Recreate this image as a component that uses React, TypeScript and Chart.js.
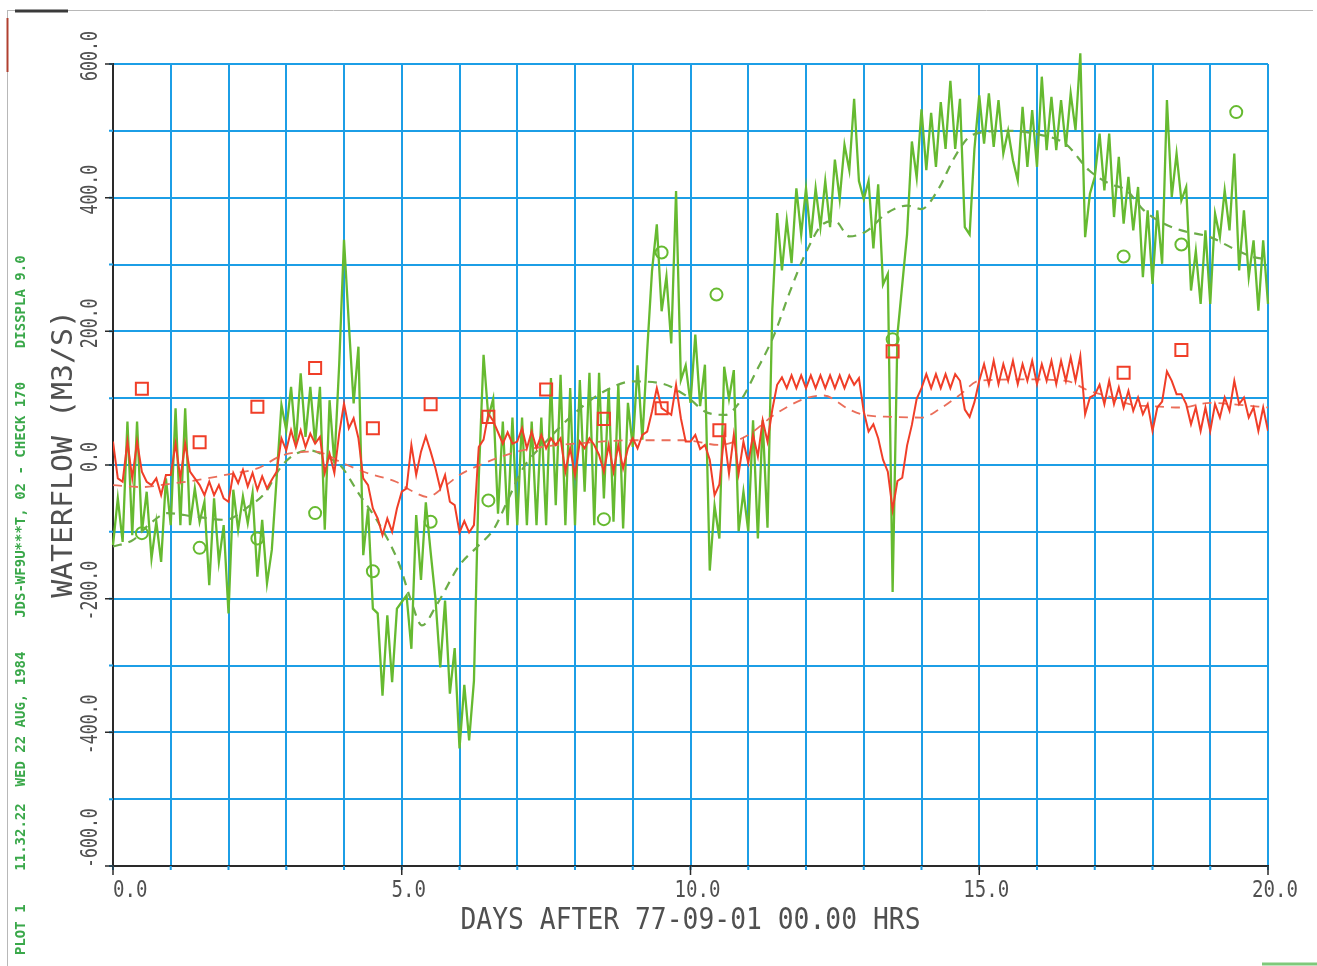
import React, { useEffect, useRef } from 'react';
import { Chart, registerables } from 'chart.js';

Chart.register(...registerables);

// ---- data ----
const STEPS_PER_DAY = 12; // one value every 2 hours

// measured flow, green solid line
const GREEN_FLOW = [
  -120, -50, -115, 65, -105, 65, -100, -40, -140, -85, -145, -20,
  -90, 85, -90, 85, -90, -35, -85, -55, -180, -50, -145, -90,
  -222, -37, -97, -47, -87, -42, -167, -82, -177, -127, -20, 90,
  52, 117, 32, 137, 42, 117, 32, 117, -97, 97, 2, 150,
  337, 212, 92, 177, -135, -65, -215, -222, -345, -225, -325, -215,
  -205, -195, -275, -75, -172, -56, -130, -200, -303, -203, -342, -274,
  -424, -329, -412, -323, -20, 165, 71, 99, -73, 65, -90, 71,
  -90, 71, -90, 65, -90, 71, -90, 130, -60, 135, -90, 115,
  -90, 127, -40, 138, -90, 138, -50, 115, -85, 121, -95, 93,
  27, 149, 38, 171, 290, 360, 230, 282, 182, 410, 127, 149,
  93, 195, 88, 150, -158, -61, -110, 147, 99, 142, -99, -40,
  -99, 67, -110, 67, -94, 233, 377, 291, 366, 302, 414, 345,
  414, 340, 414, 356, 425, 356, 457, 398, 479, 441, 548, 425,
  398, 425, 324, 420, 270, 286, -190, 195, 270, 345, 484, 430,
  532, 441, 527, 446, 543, 473, 575, 473, 548, 356, 345, 473,
  553, 481, 556, 476, 546, 466, 500, 456, 426, 536, 446, 531,
  446, 581, 471, 551, 471, 546, 476, 556, 501, 616, 341, 406,
  431, 496, 411, 496, 371, 461, 361, 431, 351, 416, 281, 381,
  271, 381, 301, 546, 401, 466, 396, 416, 261, 320, 241, 351,
  241, 376, 341, 411, 351, 466, 291, 381, 281, 336, 231, 336,
  241,
];

// measured flow, red solid line
const RED_FLOW = [
  35, -20, -25, 35, -20, 35, -10, -25, -30, -20, -45, -15,
  -15, 32, -20, 32, -10, -20, -30, -45, -25, -45, -30, -50,
  -55, -12, -27, -7, -32, -12, -37, -17, -35, -22, -10, 40,
  22, 52, 27, 52, 27, 47, 32, 42, -12, 17, -12, 47,
  92, 55, 70, 40, -20, -30, -65, -80, -105, -80, -100, -65,
  -40, -35, 30, -15, 20, 43, 20, -5, -35, -15, -55, -60,
  -101, -84, -101, -90, 27, 38, 77, 66, 49, 32, 49, 32,
  35, 55, 25, 50, 25, 45, 25, 40, 30, 40, -10, 25,
  -15, 35, 25, 40, 30, 15, -10, 30, -10, 30, -5, 25,
  40, 25, 45, 50, 80, 115, 85, 80, 75, 120, 70, 35,
  35, 45, 24, 30, 8, -45, -29, 45, -13, 45, -13, 35,
  3, 45, 13, 67, 35, 83, 120, 131, 115, 134, 115, 134,
  115, 134, 115, 134, 115, 134, 115, 134, 115, 134, 120, 130,
  80, 50, 61, 40, 8, -10, -67, -24, -19, 29, 60, 99,
  115, 136, 115, 136, 115, 136, 115, 136, 126, 83, 72, 94,
  126, 151, 121, 156, 121, 151, 126, 156, 121, 151, 126, 156,
  121, 151, 126, 156, 121, 156, 126, 161, 126, 163, 76, 101,
  105, 120, 91, 126, 91, 116, 86, 111, 81, 101, 76, 91,
  51, 86, 95, 140, 126, 106, 106, 91, 61, 86, 51, 86,
  51, 91, 71, 101, 81, 126, 91, 101, 71, 86, 51, 86,
  51,
];

// smoothed (dashed) green line
const GREEN_MEAN_DAYS = [
  0, 0.35, 0.65, 0.95, 1.4, 1.95, 2.35, 2.65, 2.85, 3.05, 3.4, 3.7, 3.95,
  4.25, 4.6, 4.95, 5.15, 5.35, 5.6, 6.0, 6.3, 6.6, 6.85, 7.1, 7.5, 8.0,
  8.5, 9.0, 9.5, 9.9, 10.3, 10.6, 10.85, 11.15, 11.45, 11.72, 12.0, 12.3,
  12.5, 12.75, 13.05, 13.4, 13.75, 14.0, 14.3, 14.55, 14.8, 15.0, 15.5,
  16.0, 16.5, 16.9, 17.25, 17.55, 17.85, 18.2, 18.5, 19.0, 19.35, 19.75, 20.0,
];
const GREEN_MEAN = [
  -122, -112, -87, -72, -77, -82, -62, -40, -10, 10, 22, 12, -2,
  -42, -87, -147, -200, -240, -210, -150, -123, -95, -50, -5, 35, 78,
  110, 125, 122, 105, 78, 75, 94, 142, 195, 259, 318, 361,
  365, 342, 350, 377, 388, 383, 414, 457, 489, 497, 500,
  495, 480, 441, 421, 411, 381, 361, 351, 341, 326, 311, 308,
];

// smoothed (dashed) red line
const RED_MEAN_DAYS = [
  0, 0.5, 1.0, 1.5, 2.0, 2.5, 2.95, 3.5, 4.0, 4.4, 4.9, 5.2, 5.45, 5.7,
  6.0, 6.3, 7.0, 7.5, 8.0, 9.0, 9.9, 10.5, 11.0, 11.45, 12.0, 12.3, 12.75,
  13.0, 13.5, 14.0, 14.3, 14.65, 15.0, 15.8, 16.5, 16.9, 17.3, 17.6, 18.0,
  18.5, 19.0, 19.5, 20.0,
];
const RED_MEAN = [
  -30, -33, -28, -22, -14, -5, 15, 20, 2, -12, -25, -40, -48, -35,
  -15, -2, 20, 28, 32, 37, 37, 30, 45, 75, 100, 104, 83,
  75, 72, 71, 83, 104, 126, 128, 126, 111, 101, 91, 88,
  86, 93, 90, 86,
];

// observed values: green circles and red squares
const CIRCLE_DAYS = [0.5, 1.5, 2.5, 3.5, 4.5, 5.5, 6.5, 8.5, 9.5, 10.45, 13.5, 17.5, 18.5, 19.45];
const CIRCLE_FLOW = [-102, -124, -110, -72, -159, -85, -53, -81, 318, 255, 188, 312, 330, 528];
const SQUARE_DAYS = [0.5, 1.5, 2.5, 3.5, 4.5, 5.5, 6.5, 7.5, 8.5, 9.5, 10.5, 13.5, 17.5, 18.5];
const SQUARE_FLOW = [114, 34, 87, 145, 55, 91, 72, 113, 69, 85, 52, 170, 138, 172];

const X_TICK_VALUES = [0, 5, 10, 15, 20];
const X_TICK_LABELS = ['0.0', '5.0', '10.0', '15.0', '20.0'];
const Y_TICK_VALUES = [600, 400, 200, 0, -200, -400, -600];
const Y_TICK_LABELS = ['600.0', '400.0', '200.0', '0.0', '-200.0', '-400.0', '-600.0'];
const X_TITLE = 'DAYS AFTER 77-09-01 00.00 HRS';
const Y_TITLE = 'WATERFLOW (M3/S)';
const SIDE_TEXT = 'PLOT 1    11.32.22  WED 22 AUG, 1984    JDS-WF9U***T, 02 - CHECK 170    DISSPLA 9.0';

// ---- styles ----
const GRID = '#1c9ee6';
const GREEN = '#66ba30';
const GREEN_DASH = '#6cad48';
const RED = '#f03e28';
const RED_DASH = '#ea6e5a';
const TEXT = '#505050';
const MONO = '"DejaVu Sans Mono", "Liberation Mono", monospace';

const W = 1317;
const H = 966;

function drawScaled(ctx: CanvasRenderingContext2D, text: string, x: number, y: number, sx: number) {
  ctx.save();
  ctx.translate(x, y);
  ctx.scale(sx, 1);
  ctx.fillText(text, 0, 0);
  ctx.restore();
}

const decorPlugin = {
  id: 'plotterDecor',
  afterDraw(chart: any) {
    const ctx: CanvasRenderingContext2D = chart.ctx;
    const xs = chart.scales.x;
    const ys = chart.scales.y;
    const area = chart.chartArea;
    ctx.save();

    // page frame marks
    ctx.strokeStyle = '#b8b8b8';
    ctx.lineWidth = 1;
    ctx.beginPath();
    ctx.moveTo(7, 10.5);
    ctx.lineTo(W - 4, 10.5);
    ctx.moveTo(7.5, 10);
    ctx.lineTo(7.5, H);
    ctx.stroke();
    ctx.strokeStyle = '#3a3a3a';
    ctx.lineWidth = 3;
    ctx.beginPath();
    ctx.moveTo(15, 11);
    ctx.lineTo(68, 11);
    ctx.stroke();
    ctx.strokeStyle = '#b04030';
    ctx.lineWidth = 2;
    ctx.beginPath();
    ctx.moveTo(7.5, 18);
    ctx.lineTo(7.5, 72);
    ctx.stroke();
    ctx.strokeStyle = '#7fc97a';
    ctx.lineWidth = 3;
    ctx.beginPath();
    ctx.moveTo(1262, H - 2);
    ctx.lineTo(W, H - 2);
    ctx.stroke();

    // grid stubs outside the axes
    ctx.strokeStyle = GRID;
    ctx.lineWidth = 2;
    ctx.beginPath();
    for (let d = 0; d <= 20; d++) {
      const px = xs.getPixelForValue(d);
      ctx.moveTo(px, area.bottom);
      ctx.lineTo(px, area.bottom + 4);
    }
    for (let v = -600; v <= 600; v += 100) {
      const py = ys.getPixelForValue(v);
      ctx.moveTo(area.left - 4, py);
      ctx.lineTo(area.left, py);
    }
    ctx.stroke();

    // major ticks
    ctx.strokeStyle = '#2a2a2a';
    ctx.lineWidth = 1.5;
    ctx.beginPath();
    X_TICK_VALUES.forEach((d) => {
      const px = xs.getPixelForValue(d);
      ctx.moveTo(px, area.bottom);
      ctx.lineTo(px, area.bottom + 9);
    });
    Y_TICK_VALUES.forEach((v) => {
      const py = ys.getPixelForValue(v);
      ctx.moveTo(area.left - 8, py);
      ctx.lineTo(area.left, py);
    });
    ctx.stroke();

    ctx.fillStyle = TEXT;
    ctx.textBaseline = 'alphabetic';

    // x tick labels
    ctx.font = `23px ${MONO}`;
    ctx.textAlign = 'center';
    const sxTick = 0.83;
    X_TICK_LABELS.forEach((lab, i) => {
      const px = xs.getPixelForValue(X_TICK_VALUES[i]);
      const wdt = ctx.measureText(lab).width * sxTick;
      const cx = Math.max(px + 7, area.left + wdt / 2);
      drawScaled(ctx, lab, cx, area.bottom + 31, sxTick);
    });

    // x title
    ctx.font = `31px ${MONO}`;
    drawScaled(ctx, X_TITLE, xs.getPixelForValue(10), area.bottom + 63, 0.85);

    // y tick labels (rotated)
    ctx.font = `23px ${MONO}`;
    const syTick = 0.72;
    Y_TICK_LABELS.forEach((lab, i) => {
      const py = ys.getPixelForValue(Y_TICK_VALUES[i]);
      const wdt = ctx.measureText(lab).width * syTick;
      const cy = Math.min(py - 8, area.bottom + 2 - wdt / 2);
      ctx.save();
      ctx.translate(area.left - 16, cy);
      ctx.rotate(-Math.PI / 2);
      ctx.scale(syTick, 1);
      ctx.textAlign = 'center';
      ctx.fillText(lab, 0, 0);
      ctx.restore();
    });

    // y title
    ctx.font = `29px ${MONO}`;
    ctx.save();
    ctx.translate(area.left - 41, ys.getPixelForValue(0) - 11);
    ctx.rotate(-Math.PI / 2);
    ctx.scale(1.03, 1);
    ctx.textAlign = 'center';
    ctx.fillText(Y_TITLE, 0, 0);
    ctx.restore();

    // side info text
    ctx.font = `bold 14px ${MONO}`;
    ctx.fillStyle = '#3aa84a';
    ctx.save();
    ctx.translate(25, 955);
    ctx.rotate(-Math.PI / 2);
    ctx.textAlign = 'left';
    ctx.fillText(SIDE_TEXT, 0, 0);
    ctx.restore();

    ctx.restore();
  },
};

const series = (vals: number[]) => vals.map((v, i) => ({ x: i / STEPS_PER_DAY, y: v }));
const pairs = (days: number[], vals: number[]) => days.map((d, i) => ({ x: d, y: vals[i] }));

export default function App() {
  const canvasRef = useRef<HTMLCanvasElement | null>(null);

  useEffect(() => {
    const canvas = canvasRef.current;
    if (!canvas) return;
    const chart = new Chart(canvas, {
      type: 'line',
      data: {
        datasets: [
          {
            label: 'observed (squares)',
            data: pairs(SQUARE_DAYS, SQUARE_FLOW),
            showLine: false,
            pointStyle: 'rect',
            pointRadius: 8.5,
            pointBorderWidth: 2,
            pointBorderColor: RED,
            pointBackgroundColor: 'rgba(0,0,0,0)',
            borderColor: RED,
          },
          {
            label: 'observed (circles)',
            data: pairs(CIRCLE_DAYS, CIRCLE_FLOW),
            showLine: false,
            pointStyle: 'circle',
            pointRadius: 6,
            pointBorderWidth: 2,
            pointBorderColor: GREEN,
            pointBackgroundColor: 'rgba(0,0,0,0)',
            borderColor: GREEN,
          },
          {
            label: 'red flow',
            data: series(RED_FLOW),
            borderColor: RED,
            borderWidth: 2,
            pointRadius: 0,
            tension: 0,
          },
          {
            label: 'red mean',
            data: pairs(RED_MEAN_DAYS, RED_MEAN),
            borderColor: RED_DASH,
            borderWidth: 1.8,
            borderDash: [9, 7],
            pointRadius: 0,
            cubicInterpolationMode: 'monotone',
          },
          {
            label: 'green mean',
            data: pairs(GREEN_MEAN_DAYS, GREEN_MEAN),
            borderColor: GREEN_DASH,
            borderWidth: 2.2,
            borderDash: [9, 7],
            pointRadius: 0,
            cubicInterpolationMode: 'monotone',
          },
          {
            label: 'green flow',
            data: series(GREEN_FLOW),
            borderColor: GREEN,
            borderWidth: 2.3,
            pointRadius: 0,
            tension: 0,
            clip: false,
          },
        ],
      },
      options: {
        animation: false,
        responsive: false,
        events: [],
        layout: { padding: { left: 113, top: 64, right: 49, bottom: 100 } },
        plugins: { legend: { display: false }, tooltip: { enabled: false } },
        scales: {
          x: {
            type: 'linear',
            min: 0,
            max: 20,
            ticks: { display: false, stepSize: 1 },
            grid: { color: GRID, lineWidth: 2, drawTicks: false },
            border: { color: '#2a2a2a', width: 2 },
          },
          y: {
            type: 'linear',
            min: -600,
            max: 600,
            ticks: { display: false, stepSize: 100 },
            grid: { color: GRID, lineWidth: 2, drawTicks: false },
            border: { color: '#2a2a2a', width: 2 },
          },
        },
      },
      plugins: [decorPlugin],
    });
    return () => chart.destroy();
  }, []);

  return (
    <div style={{ position: 'absolute', left: 0, top: 0, width: W, height: H, background: '#fff' }}>
      <canvas ref={canvasRef} width={W} height={H} style={{ display: 'block', width: W, height: H }} />
    </div>
  );
}
